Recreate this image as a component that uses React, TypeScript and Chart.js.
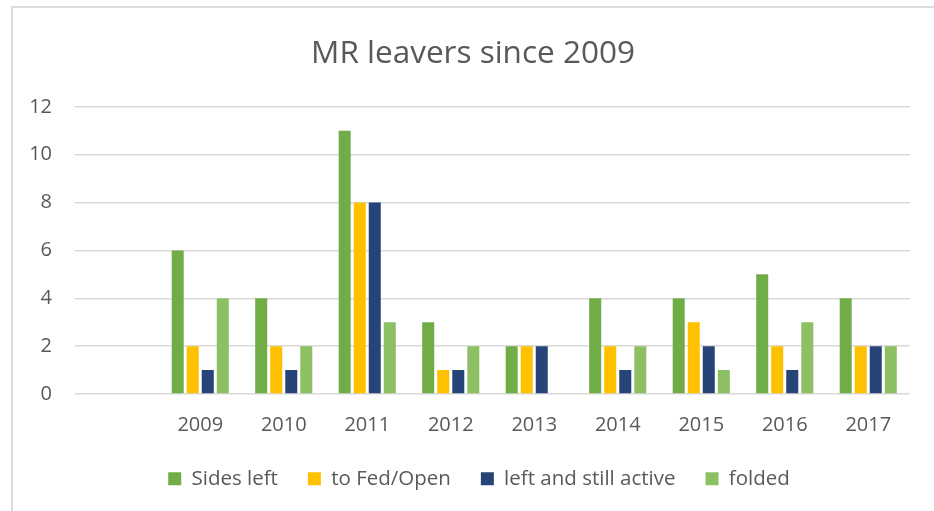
import React, { useEffect, useRef } from "react";
import { Chart, registerables } from "chart.js";

Chart.register(...registerables);

const title = "MR leavers since 2009";
const categories = ["", "2009", "2010", "2011", "2012", "2013", "2014", "2015", "2016", "2017"];
const sidesLeft = [null, 6, 4, 11, 3, 2, 4, 4, 5, 4];
const toFedOpen = [null, 2, 2, 8, 1, 2, 2, 3, 2, 2];
const leftStillActive = [null, 1, 1, 8, 1, 2, 1, 2, 1, 2];
const folded = [null, 4, 2, 3, 2, 0, 2, 1, 3, 2];
const seriesNames = ["Sides left", "to Fed/Open", "left and still active", "folded"];
const seriesColors = ["#70AD47", "#FFC000", "#264478", "#8DC063"];
const yMin = 0;
const yMax = 12;
const yStep = 2;

const FONT = "'Open Sans', 'DejaVu Sans', sans-serif";

const legendShift = {
  id: "legendShift",
  afterLayout(chart: any) {
    const l = chart.legend;
    if (l) {
      l.left += 6;
      l.right += 6;
    }
  },
};

export default function App() {
  const ref = useRef<HTMLCanvasElement | null>(null);

  useEffect(() => {
    if (!ref.current) return;
    const values = [sidesLeft, toFedOpen, leftStillActive, folded];
    const chart = new Chart(ref.current, {
      type: "bar",
      data: {
        labels: categories,
        datasets: values.map((v, i) => ({
          label: seriesNames[i],
          data: v,
          backgroundColor: seriesColors[i],
          borderWidth: 0,
          categoryPercentage: 0.72,
          barPercentage: 0.8,
        })),
      },
      plugins: [legendShift],
      options: {
        responsive: false,
        animation: false,
        layout: { padding: { left: 12, right: 0, top: 6, bottom: 12 } },
        plugins: {
          title: {
            display: true,
            text: title,
            color: "#595959",
            font: { family: FONT, size: 31.5, weight: "normal" },
            padding: { top: 29, bottom: 34 },
          },
          legend: {
            position: "bottom",
            labels: {
              color: "#595959",
              font: { family: FONT, size: 20.5 },
              boxWidth: 13,
              boxHeight: 13,
              padding: 30,
            },
          },
          tooltip: { enabled: false },
        },
        scales: {
          x: {
            grid: { display: false, drawTicks: false },
            border: { display: false },
            ticks: {
              color: "#595959",
              font: { family: FONT, size: 20 },
              padding: 19,
              maxRotation: 0,
            },
            afterFit: (s: any) => {
              s.height = 44.5;
            },
          },
          y: {
            min: yMin,
            max: yMax,
            grid: { color: "#d9d9d9", lineWidth: 1.5, drawTicks: false },
            border: { display: false },
            ticks: {
              stepSize: yStep,
              color: "#595959",
              font: { family: FONT, size: 20 },
              padding: 23,
            },
            afterFit: (s: any) => {
              s.width = 63;
            },
          },
          yRight: {
            position: "right",
            display: true,
            grid: { display: false },
            border: { display: false },
            ticks: { display: false },
            afterFit: (s: any) => {
              s.width = 24;
            },
          },
        },
      },
    });
    return () => chart.destroy();
  }, []);

  return (
    <div style={{ position: "absolute", left: 0, top: 0, width: 934, height: 511, background: "#fff" }}>
      <div
        style={{
          position: "absolute",
          left: 11,
          top: 6,
          width: 923,
          height: 505,
          borderLeft: "2px solid #dcdcdc",
          borderTop: "2px solid #dcdcdc",
          boxSizing: "border-box",
        }}
      />
      <canvas ref={ref} width={934} height={511} style={{ position: "absolute", left: 0, top: 0, display: "block" }} />
    </div>
  );
}
